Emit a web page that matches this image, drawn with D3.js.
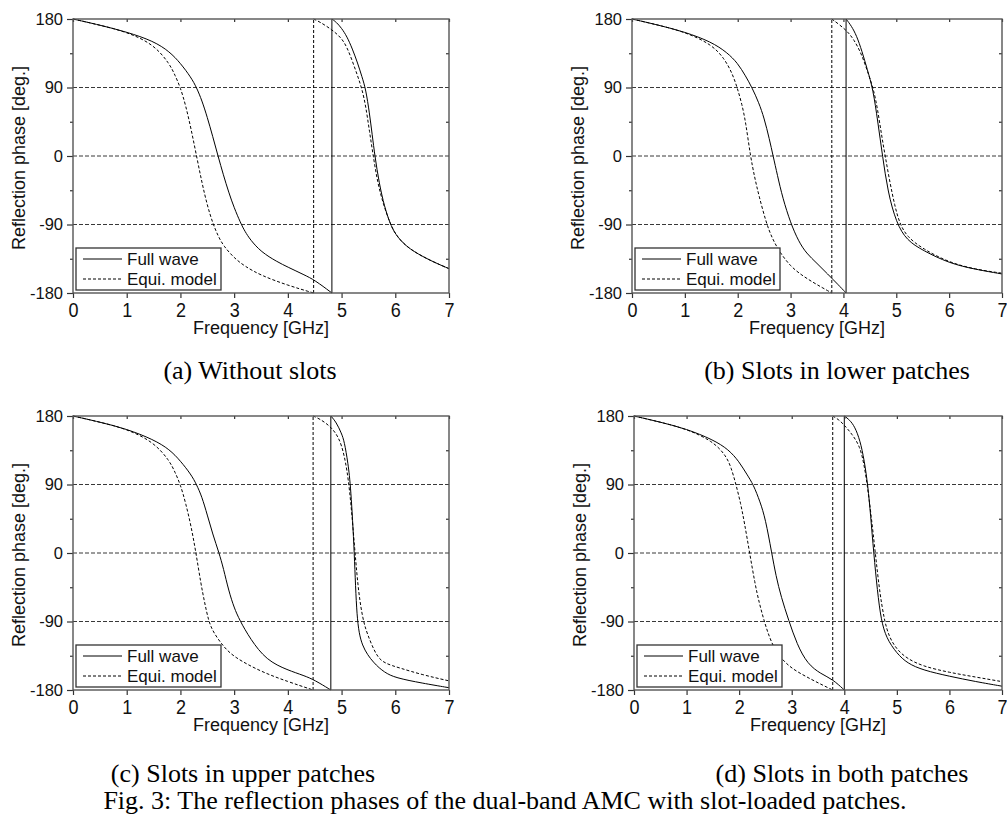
<!DOCTYPE html>
<html>
<head>
<meta charset="utf-8">
<script src="https://cdn.jsdelivr.net/npm/d3@7"></script>
<style>
  body { margin: 0; background: #fff; }
  svg { display: block; }
</style>
</head>
<body>
<div id="chart"></div>
<script>
const xTicks = [0, 1, 2, 3, 4, 5, 6, 7]
const yTicks = [-180, -90, 0, 90, 180]
const yMinorTicks = [-135, -45, 45, 135]
const gridLines = [-90, 0, 90]
const legendLabels = ['Full wave', 'Equi. model']
const captions = ['(a) Without slots', '(b) Slots in lower patches', '(c) Slots in upper patches', '(d) Slots in both patches']
const figCaption = 'Fig. 3: The reflection phases of the dual-band AMC with slot-loaded patches.'

// [frequency (GHz), reflection phase (deg)]
const fullWaveA = [[0,180],[0.5,172],[1,163],[1.5,151],[1.8,137],[2.0,122],[2.2,103],[2.3,90],[2.4,73],[2.5,51],[2.6,26],[2.7,0],[2.8,-25],[2.9,-48],[3.0,-68],[3.12,-88],[3.2,-99],[3.3,-110],[3.5,-126],[3.8,-139],[4.0,-146],[4.3,-156],[4.5,-163],[4.82,-180],
  [4.82,180],[4.9,176],[5.0,168],[5.1,157],[5.2,141],[5.3,122],[5.38,104],[5.45,88],[5.52,56],[5.57,28],[5.62,0],[5.7,-36],[5.8,-67],[5.9,-88],[6.0,-103],[6.2,-119],[6.5,-132],[6.8,-142],[7,-148]]
const equiModelA = [[0,180],[0.5,172],[1,163],[1.5,147],[1.8,121],[1.9,106],[2.0,90],[2.1,66],[2.2,35],[2.3,0],[2.4,-35],[2.5,-65],[2.6,-88],[2.7,-105],[2.8,-118],[3.0,-134],[3.2,-145],[3.5,-157],[4.0,-170],[4.48,-180],
  [4.48,180],[4.6,176],[4.82,166],[5.0,155],[5.1,143],[5.2,125],[5.3,105],[5.38,88],[5.45,66],[5.52,32],[5.59,0],[5.67,-35],[5.78,-64],[5.9,-88],[6.0,-103],[6.2,-119],[6.5,-132],[6.8,-142],[7,-148]]

const fullWaveB = [[0,180],[0.5,172],[1,163],[1.5,150],[1.8,136],[2.0,122],[2.15,105],[2.27,90],[2.4,70],[2.5,50],[2.6,22],[2.67,0],[2.75,-25],[2.85,-55],[3.0,-88],[3.15,-112],[3.3,-128],[3.5,-141],[3.7,-155],[3.9,-169],[4.05,-180],
  [4.05,180],[4.15,171],[4.25,158],[4.35,138],[4.45,114],[4.56,88],[4.65,45],[4.74,0],[4.84,-47],[5.0,-88],[5.2,-111],[5.5,-124],[6.0,-141],[6.5,-149],[7,-155]]
const equiModelB = [[0,180],[0.5,172],[1,163],[1.5,147],[1.75,128],[1.9,108],[1.99,90],[2.08,68],[2.15,45],[2.24,0],[2.32,-28],[2.4,-52],[2.54,-88],[2.65,-108],[2.8,-127],[3.0,-145],[3.2,-156],[3.4,-165],[3.6,-173],[3.78,-180],
  [3.78,180],[4.05,166],[4.2,153],[4.35,133],[4.47,108],[4.57,88],[4.65,60],[4.72,28],[4.79,0],[4.88,-35],[4.97,-65],[5.06,-88],[5.2,-106],[5.5,-122],[6.0,-140],[6.5,-149],[7,-154]]

const fullWaveC = [[0,180],[0.5,172],[1,163],[1.5,149],[1.8,136],[2.0,121],[2.2,103],[2.3,90],[2.4,74],[2.5,50],[2.6,25],[2.72,0],[2.8,-20],[2.9,-50],[3.0,-72],[3.1,-88],[3.3,-113],[3.6,-141],[4.0,-154],[4.3,-161],[4.5,-167],[4.8,-180],
  [4.8,180],[4.9,172],[5.0,157],[5.05,147],[5.12,118],[5.17,88],[5.24,0],[5.28,-88],[5.37,-123],[5.6,-145],[5.8,-157],[6.0,-164],[6.5,-171],[7,-177]]
const equiModelC = [[0,180],[0.5,172],[1,163],[1.5,146],[1.8,121],[1.9,106],[2.0,90],[2.1,65],[2.2,35],[2.29,0],[2.38,-40],[2.45,-65],[2.52,-88],[2.6,-103],[2.8,-123],[3.0,-137],[3.5,-156],[4.0,-169],[4.47,-180],
  [4.47,180],[4.6,176],[4.8,166],[4.95,152],[5.05,130],[5.15,88],[5.25,0],[5.32,-55],[5.4,-88],[5.47,-105],[5.65,-136],[5.8,-145],[6.08,-151],[6.5,-160],[7,-168]]

const fullWaveD = [[0,180],[0.5,172],[1,163],[1.5,149],[1.8,136],[2.0,120],[2.15,103],[2.27,90],[2.4,67],[2.5,45],[2.62,0],[2.7,-30],[2.8,-58],[2.94,-88],[3.1,-120],[3.3,-146],[3.56,-159],[3.78,-166],[4.0,-180],
  [4.0,180],[4.1,175],[4.2,166],[4.3,148],[4.38,122],[4.45,88],[4.5,50],[4.56,0],[4.63,-50],[4.7,-88],[4.8,-112],[5.0,-132],[5.2,-145],[5.5,-154],[6.0,-162],[6.5,-169],[7,-175]]
const equiModelD = [[0,180],[0.5,172],[1,163],[1.5,147],[1.75,128],[1.85,112],[1.94,90],[2.03,65],[2.1,40],[2.2,0],[2.3,-40],[2.38,-65],[2.47,-88],[2.57,-110],[2.7,-130],[2.9,-146],[3.1,-156],[3.4,-167],[3.6,-174],[3.78,-180],
  [3.78,180],[3.9,175],[4.0,168],[4.15,156],[4.3,140],[4.38,115],[4.44,88],[4.51,50],[4.59,0],[4.67,-50],[4.76,-88],[4.85,-110],[5.0,-127],[5.2,-139],[5.5,-149],[6.0,-157],[6.5,-163],[7,-169]]

const W = 1007, H = 816
const plotH = 274
const sans = "'Liberation Sans', Arial, sans-serif"
const serif = "'Liberation Serif', 'Times New Roman', serif"

const panels = [
  { full: fullWaveA, equi: equiModelA, left: 73, top: 19, width: 376, cap: [250, 379] },
  { full: fullWaveB, equi: equiModelB, left: 632, top: 19, width: 370, cap: [837, 379] },
  { full: fullWaveC, equi: equiModelC, left: 73, top: 416, width: 376, cap: [243, 782] },
  { full: fullWaveD, equi: equiModelD, left: 634, top: 416, width: 368, cap: [842, 782] }
]

const svg = d3.select('#chart').append('svg')
  .attr('width', W)
  .attr('height', H)

// split a series at its -180 -> 180 wrap so each branch can be smoothed on its own
const splitBranches = (data) => {
  const branches = [[data[0]]]
  for (let i = 1; i < data.length; i++) {
    const prev = data[i - 1], cur = data[i]
    if (cur[0] === prev[0]) branches.push([cur])
    else branches[branches.length - 1].push(cur)
  }
  return branches
}

const drawSeries = (g, data, x, y, dash) => {
  const line = d3.line().x(d => x(d[0])).y(d => y(d[1])).curve(d3.curveBasis)
  const branches = splitBranches(data)
  branches.forEach((b, i) => {
    g.append('path')
      .attr('d', line(b))
      .attr('fill', 'none')
      .attr('stroke', '#000')
      .attr('stroke-width', 1)
      .attr('stroke-dasharray', dash)
    if (i > 0) {
      // vertical phase wrap
      const end = branches[i - 1][branches[i - 1].length - 1]
      g.append('line')
        .attr('x1', x(end[0])).attr('x2', x(b[0][0]))
        .attr('y1', y(end[1])).attr('y2', y(b[0][1]))
        .attr('stroke', '#000')
        .attr('stroke-width', 1)
        .attr('stroke-dasharray', dash)
    }
  })
}

const styleAxis = (sel) => {
  sel.select('.domain').remove()
  sel.selectAll('line').attr('stroke', '#333').attr('stroke-width', 1.2)
  sel.selectAll('text').attr('fill', '#111').attr('font-family', sans)
}

const drawPanel = (p, caption) => {
  const x = d3.scaleLinear([0, 7], [p.left, p.left + p.width])
  const y = d3.scaleLinear([-180, 180], [p.top + plotH, p.top])
  const g = svg.append('g')

  g.selectAll('.grid')
    .data(gridLines)
    .join('line')
    .attr('x1', x(0)).attr('x2', x(7))
    .attr('y1', d => y(d)).attr('y2', d => y(d))
    .attr('stroke', '#222')
    .attr('stroke-width', 0.9)
    .attr('stroke-dasharray', '4,2')

  drawSeries(g, p.equi, x, y, '3,2')
  drawSeries(g, p.full, x, y, null)

  // axes
  const bottom = g.append('g')
    .attr('transform', `translate(0,${y(-180)})`)
    .call(d3.axisBottom(x).tickValues(xTicks).tickFormat(d => String(d)).tickSize(5).tickSizeOuter(0))
    .call(styleAxis)
  bottom.selectAll('text')
    .attr('font-size', 18)
    .attr('y', 0).attr('dy', 0)
    .attr('transform', 'translate(0,24) scale(1,1.17)')

  g.append('g')
    .attr('transform', `translate(${x(0)},0)`)
    .call(d3.axisLeft(y).tickValues(yTicks).tickFormat(d => String(d)).tickSize(6).tickPadding(4).tickSizeOuter(0))
    .call(styleAxis)
    .selectAll('text').attr('font-size', 16.5)

  g.append('g')
    .attr('transform', `translate(${x(0)},0)`)
    .call(d3.axisLeft(y).tickValues(yMinorTicks).tickSize(3).tickFormat('').tickSizeOuter(0))
    .call(styleAxis)

  g.append('g')
    .attr('transform', `translate(${x(7)},0)`)
    .call(d3.axisRight(y).tickValues(yMinorTicks).tickSize(-3).tickFormat('').tickSizeOuter(0))
    .call(styleAxis)

  g.append('g')
    .attr('transform', `translate(0,${y(180)})`)
    .call(d3.axisTop(x).tickValues(xTicks).tickSize(-3).tickFormat('').tickSizeOuter(0))
    .call(styleAxis)

  // frame
  g.append('rect')
    .attr('x', x(0)).attr('y', y(180))
    .attr('width', x(7) - x(0)).attr('height', y(-180) - y(180))
    .attr('fill', 'none')
    .attr('stroke', '#555')
    .attr('stroke-width', 1.4)

  // legend
  const lx = x(0), ly = y(-180)
  const leg = g.append('g')
  leg.append('rect')
    .attr('x', lx + 3).attr('y', ly - 45)
    .attr('width', 145).attr('height', 42)
    .attr('fill', '#fff')
    .attr('stroke', '#333')
    .attr('stroke-width', 1.3)
  legendLabels.forEach((label, i) => {
    leg.append('line')
      .attr('x1', lx + 10).attr('x2', lx + 49)
      .attr('y1', ly - 34 + i * 20).attr('y2', ly - 34 + i * 20)
      .attr('stroke', '#000')
      .attr('stroke-width', 1)
      .attr('stroke-dasharray', i ? '3,2' : null)
    leg.append('text')
      .attr('x', lx + 54).attr('y', ly - 28 + i * 20)
      .attr('font-family', sans)
      .attr('font-size', 17)
      .attr('fill', '#111')
      .text(label)
  })

  // axis titles
  g.append('text')
    .attr('x', (x(0) + x(7)) / 2).attr('y', y(-180) + 41)
    .attr('text-anchor', 'middle')
    .attr('font-family', sans)
    .attr('font-size', 18)
    .attr('fill', '#111')
    .text('Frequency [GHz]')

  g.append('text')
    .attr('transform', `translate(${x(0) - 48},${y(0) + 2}) rotate(-90)`)
    .attr('text-anchor', 'middle')
    .attr('font-family', sans)
    .attr('font-size', 18)
    .attr('fill', '#111')
    .text('Reflection phase [deg.]')

  svg.append('text')
    .attr('x', p.cap[0]).attr('y', p.cap[1])
    .attr('text-anchor', 'middle')
    .attr('font-family', serif)
    .attr('font-size', 26)
    .attr('fill', '#000')
    .text(caption)
}

panels.forEach((p, i) => drawPanel(p, captions[i]))

svg.append('text')
  .attr('x', 505).attr('y', 809)
  .attr('text-anchor', 'middle')
  .attr('font-family', serif)
  .attr('font-size', 26)
  .attr('fill', '#000')
  .text(figCaption)
</script>
</body>
</html>
